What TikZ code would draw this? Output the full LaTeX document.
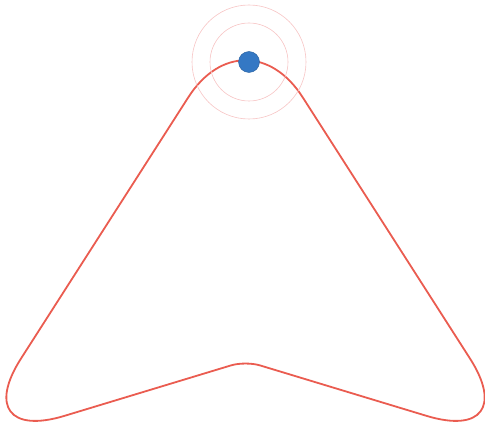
\documentclass[tikz,border=0pt]{standalone}
\usepackage{tikz}
\usetikzlibrary{calc}
\definecolor{trackred}{RGB}{234, 92, 80}
\definecolor{pinblue}{RGB}{ 52,120,196}
\definecolor{ringpink}{RGB}{247,196,196}

\begin{document}
\begin{tikzpicture}[
    x=1pt, y=-1pt,
    outline/.style={draw=trackred, line width=1.8pt, line join=round},
    ring/.style={draw=ringpink, line width=0.6pt},
    pin/.style={circle, fill=pinblue, draw=pinblue!80!black, line width=0.4pt,
                minimum size=21pt, inner sep=0pt},
]
\useasboundingbox (0,0) rectangle (485,433);
% corners of the arrow head
\coordinate (apex)  at (245.5,   8);
\coordinate (right) at (526,   446);
\coordinate (notch) at (245.5, 361);
\coordinate (left)  at (-35,   446);
\coordinate (start) at ($(left)!0.5!(apex)$);
% outline, each corner rounded by the option on the side reaching it
\draw[outline] (start)
  [rounded corners=106pt] -- (apex)
  [rounded corners=104pt] -- (right)
  [rounded corners=15pt]  -- (notch)
  [rounded corners=104pt] -- (left)
  [sharp corners] -- cycle;
% rings and pin
\draw[ring] (249,62) circle[radius=39];
\draw[ring] (249,62) circle[radius=57];
\node[pin] (marker) at (249,62) {};
\end{tikzpicture}
\end{document}
